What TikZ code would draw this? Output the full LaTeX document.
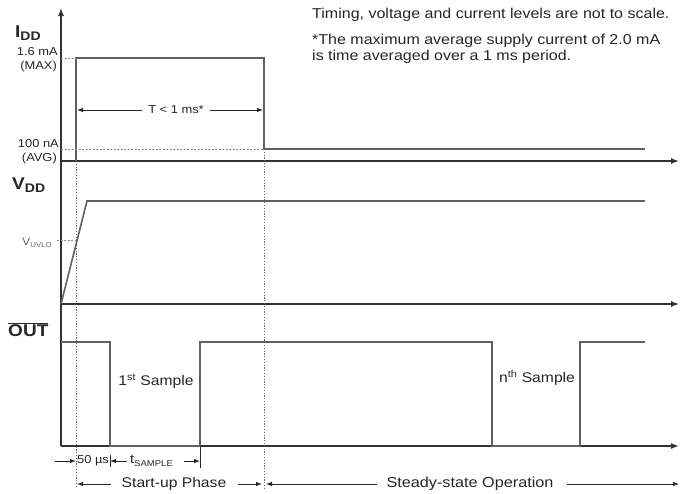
\documentclass[tikz,border=0pt]{standalone}
\usepackage{fontspec}
\setmainfont{Liberation Sans}[FakeStretch=1.12]
\usetikzlibrary{arrows.meta}
\newcommand{\fs}[1]{\fontsize{#1}{#1}\selectfont}
\begin{document}
\begin{tikzpicture}[x=1pt,y=-1pt,
  axisline/.style={line width=1.4pt, draw=black!80},
  axisarrow/.style={axisline, -{Latex[length=8pt,width=6pt]}},
  wave/.style={line width=1.6pt, draw=black!62},
  guide/.style={dash pattern=on 1.2pt off 1.6pt, line width=0.8pt, draw=black!60},
  dashguide/.style={dash pattern=on 2pt off 1.5pt, line width=0.9pt, draw=black!45},
  dim/.style={line width=0.9pt, draw=black!85, -{Latex[length=6pt,width=4.5pt]}},
  lbl/.style={inner sep=0pt, text=black!85},
  small/.style={lbl, font=\fs{11.5}},
  body/.style={lbl, font=\fs{14}},
  sig/.style={lbl, font=\bfseries\fs{17}},
]
\useasboundingbox (0,0) rectangle (680,493);
% coordinates
\coordinate (ytop) at (61,8);
\coordinate (ybot) at (61,446);
\coordinate (iL) at (61,161); \coordinate (iR) at (679,161);
\coordinate (vL) at (61,304); \coordinate (vR) at (679,304);
\coordinate (oL) at (61,446); \coordinate (oR) at (679,446);
% axes
\draw[axisarrow] (ybot) -- (ytop);
\draw[axisarrow] (iL) -- (iR);
\draw[axisarrow] (vL) -- (vR);
\draw[axisarrow] (oL) -- (oR);
% IDD waveform
\coordinate (i1) at (76,161); \coordinate (i2) at (76,58);
\coordinate (i3) at (264,58); \coordinate (i4) at (264,149);
\coordinate (i5) at (645,149);
\draw[wave] (i1) -- (i2) -- (i3) -- (i4) -- (i5);
\coordinate (imax) at (61,58); \coordinate (iavg) at (61,149);
\draw[dashguide] (imax) -- (i2);
\draw[dashguide] (iavg) -- (i4);
% dotted verticals
\coordinate (d1b) at (76,488); \coordinate (d2b) at (264,488);
\draw[guide] (i1) -- (d1b);
\draw[guide] (i4) -- (d2b);
% T<1ms
\coordinate (tL) at (77,110); \coordinate (tR) at (263,110);
\node[lbl, font=\fs{11.5}] (tlab) at (176,110) {T < 1 ms*};
\draw[dim] (tlab.west) ++(-6,0) coordinate (tl1) -- (tL);
\draw[dim] (tlab.east) ++(6,0) coordinate (tr1) -- (tR);
% VDD waveform
\coordinate (v1) at (87,201); \coordinate (v2) at (645,201);
\draw[wave] (vL) -- (v1) -- (v2);
\coordinate (uv1) at (57,240); \coordinate (uv2) at (76,240);
\draw[dashguide] (uv1) -- (uv2);
% OUT waveform
\coordinate (o0) at (61,342); \coordinate (o1) at (110,342); \coordinate (o2) at (110,446);
\coordinate (o3) at (200,446); \coordinate (o4) at (200,342); \coordinate (o5) at (492,342);
\coordinate (o6) at (492,446); \coordinate (o7) at (580,446); \coordinate (o8) at (580,342);
\coordinate (o9) at (645,342);
\draw[wave] (o0) -- (o1) -- (o2) -- (o3) -- (o4) -- (o5) -- (o6) -- (o7) -- (o8) -- (o9);
% labels left
\node[sig, anchor=base west] (idd) at (15,37) {I\raisebox{-3pt}{\fs{12.5}DD}};
\node[small, anchor=base east] (imaxl) at (58,55) {1.6 mA};
\node[small, anchor=base east] (imaxl2) at (57,69) {(MAX)};
\node[small, anchor=base east] (iavgl) at (59,147) {100 nA};
\node[small, anchor=base east] (iavgl2) at (57,161) {(AVG)};
\node[sig, anchor=base west] (vdd) at (12,189) {V\raisebox{-3pt}{\fs{12.5}DD}};
\node[lbl, text=black!60, anchor=base west, font=\fs{11}] (vuvlo) at (22,245) {V\raisebox{-2.5pt}{\fs{7}UVLO}};
\node[sig, anchor=base west] (out) at (8,336) {$\overline{\mbox{OUT}}$};
% sample labels
\node[body] (s1) at (156,381) {1\textsuperscript{st} Sample};
\node[body] (sn) at (537,378) {n\textsuperscript{th} Sample};
% dimension row 1
\coordinate (a50s) at (55,461); \coordinate (a50e) at (76,461);
\draw[dim] (a50s) -- (a50e);
\node[lbl, font=\fs{11.5}] (l50) at (93,461) {50 µs};
\coordinate (tk1a) at (110,455); \coordinate (tk1b) at (110,467);
\draw[line width=0.9pt, draw=black!85] (tk1a) -- (tk1b);
\coordinate (ts1) at (127,461); \coordinate (ts1e) at (110,461);
\draw[dim] (ts1) -- (ts1e);
\node[lbl, font=\fs{13}, anchor=west] (lts) at (130,461) {t\raisebox{-2.5pt}{\fs{8.5}SAMPLE}};
\coordinate (ts2) at (184,461); \coordinate (ts2e) at (200,461);
\draw[dim] (ts2) -- (ts2e);
\coordinate (tk2b) at (200,468);
\draw[line width=0.9pt, draw=black!85] (o3) -- (tk2b);
% dimension row 2
\node[body] (sp) at (174,484) {Start-up Phase};
\coordinate (sp1) at (111,484); \coordinate (sp1e) at (77,484);
\draw[dim] (sp1) -- (sp1e);
\coordinate (sp2) at (238,484); \coordinate (sp2e) at (262,484);
\draw[dim] (sp2) -- (sp2e);
\node[lbl, font=\fs{14.5}] (ss) at (470,484) {Steady-state Operation};
\coordinate (ss1) at (377,484); \coordinate (ss1e) at (266,484);
\draw[dim] (ss1) -- (ss1e);
\coordinate (ss2) at (567,484); \coordinate (ss2e) at (679,484);
\draw[dim] (ss2) -- (ss2e);
% notes
\node[lbl, font=\fs{14.3}, anchor=base west] (n1) at (312,18) {Timing, voltage and current levels are not to scale.};
\node[lbl, font=\fs{14.3}, anchor=base west] (n2) at (312,44) {*The maximum average supply current of 2.0 mA};
\node[lbl, font=\fs{14.3}, anchor=base west] (n3) at (312,60) {is time averaged over a 1 ms period.};
\end{tikzpicture}
\end{document}
